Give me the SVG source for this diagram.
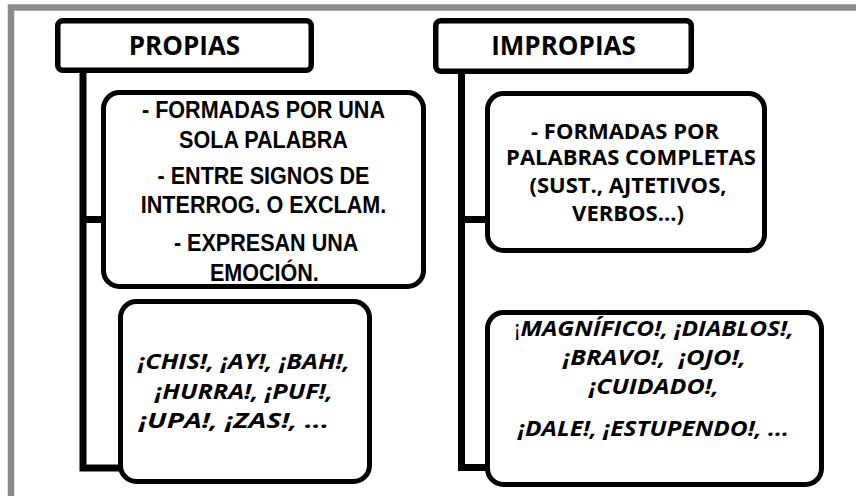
<svg xmlns="http://www.w3.org/2000/svg" width="856" height="496" viewBox="0 0 856 496">
<style>
.frame{fill:none;stroke:#8a8a8a;stroke-width:6.5}
.hdr{fill:#fff;stroke:#000;stroke-width:5.5}
.box{fill:#fff;stroke:#000;stroke-width:5}
.conn{fill:none;stroke:#000;stroke-width:7;stroke-linejoin:miter;stroke-linecap:butt}
.ht{font-family:"Open Sans","Liberation Sans",sans-serif;font-weight:700;font-size:26px;text-anchor:middle;fill:#000}
.nt{font-family:"Liberation Sans",Arial,sans-serif;font-weight:700;font-size:24.5px;text-anchor:middle;fill:#000}
.ot{font-family:"Open Sans","Liberation Sans",sans-serif;font-weight:700;font-size:22px;text-anchor:middle;fill:#000}
.it{font-family:"Open Sans","Liberation Sans",sans-serif;font-weight:700;font-style:italic;font-size:21.5px;text-anchor:middle;fill:#000}
.up{font-style:normal;font-weight:400}
</style>
<rect class="frame" x="11" y="7.5" width="900" height="600"/>
<g id="connectors">
<path class="conn" d="M83 73 V468 H121"/>
<path class="conn" d="M83 219.5 H103"/>
<path class="conn" d="M461.5 74 V467.5 H488"/>
<path class="conn" d="M461.5 219.5 H488"/>
</g>
<g id="propias">
<rect class="hdr" x="57.75" y="20.75" width="253.5" height="49.5" rx="5"/>
<text class="ht" x="184.5" y="55">PROPIAS</text>
</g>
<g id="impropias">
<rect class="hdr" x="435.75" y="20.75" width="255.5" height="50.5" rx="5"/>
<text class="ht" x="563.5" y="55">IMPROPIAS</text>
</g>
<g id="propias-rasgos">
<rect class="box" x="103.5" y="92.5" width="320" height="194" rx="16"/>
<text class="nt" transform="translate(263.5 0) scale(0.88 1)"><tspan x="0" y="118">- FORMADAS POR UNA</tspan><tspan x="0" y="148">SOLA PALABRA</tspan><tspan x="0" y="184">- ENTRE SIGNOS DE</tspan><tspan x="0" y="213">INTERROG. O EXCLAM.</tspan><tspan x="3" y="251">- EXPRESAN UNA</tspan><tspan x="1" y="281">EMOCIÓN.</tspan></text>
</g>
<g id="propias-ejemplos">
<rect class="box" x="120.5" y="301.5" width="249" height="180" rx="16"/>
<text class="it"><tspan x="244" y="369" textLength="212" lengthAdjust="spacingAndGlyphs">¡CHIS!, ¡AY!, ¡BAH!,</tspan><tspan x="244" y="399" textLength="178" lengthAdjust="spacingAndGlyphs">¡HURRA!, ¡PUF!,</tspan><tspan x="234" y="428" textLength="190" lengthAdjust="spacingAndGlyphs">¡UPA!, ¡ZAS!, ...</tspan></text>
</g>
<g id="impropias-rasgos">
<rect class="box" x="487.5" y="93.5" width="277" height="157" rx="16"/>
<text class="ot"><tspan x="625" y="139">- FORMADAS POR</tspan><tspan x="631" y="165">PALABRAS COMPLETAS</tspan><tspan x="628" y="193">(SUST., AJTETIVOS,</tspan><tspan x="628" y="221">VERBOS...)</tspan></text>
</g>
<g id="impropias-ejemplos">
<rect class="box" x="487.5" y="312.5" width="334" height="172" rx="16"/>
<text class="it" xml:space="preserve"><tspan x="654" y="336" textLength="280" lengthAdjust="spacingAndGlyphs"><tspan class="up">¡</tspan>MAGNÍFICO!, ¡DIABLOS!,</tspan><tspan x="654.5" y="365" textLength="183" lengthAdjust="spacingAndGlyphs">¡BRAVO!,  ¡OJO!,</tspan><tspan x="654" y="394" textLength="130" lengthAdjust="spacingAndGlyphs">¡CUIDADO!,</tspan><tspan x="653.5" y="436" textLength="271" lengthAdjust="spacingAndGlyphs">¡DALE!, ¡ESTUPENDO!, ...</tspan></text>
</g>
</svg>
